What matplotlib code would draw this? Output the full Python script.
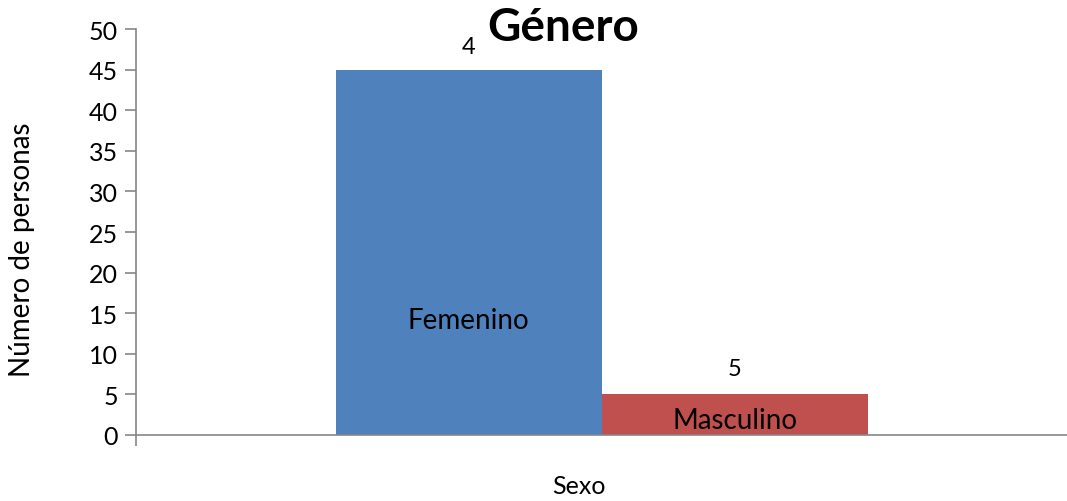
import numpy as np
import matplotlib.pyplot as plt

plt.rcParams['font.family'] = ['Lato', 'DejaVu Sans']

categorias = ['Femenino', 'Masculino']
valores = [45, 5]
etiquetas_valor = ['4', '5']
colores = ['#4F81BD', '#C0504D']
yticks = np.arange(0, 55, 5)

fig = plt.figure(figsize=(10.67, 5.02), dpi=100)
ax = fig.add_axes([0.1275, 0.1315, 0.8725, 0.8085])

x = np.array([-0.5, 0.5])
ax.bar(x, valores, width=1.0, color=colores)

ax.set_xlim(-1.75, 1.75)
ax.set_ylim(0, 50)
ax.set_yticks(yticks)
ax.set_xticks([-1.75])
ax.set_xticklabels([''])

gris = '#868686'
for s in ['top', 'right']:
    ax.spines[s].set_visible(False)
ax.spines['left'].set_color(gris)
ax.spines['bottom'].set_color(gris)
ax.spines['left'].set_linewidth(1.2)
ax.spines['bottom'].set_linewidth(1.2)
ax.tick_params(axis='y', length=8, width=1.2, color=gris, labelsize=18, pad=5)
ax.tick_params(axis='x', length=8, width=1.2, color=gris)

# etiquetas de valor y categoria
ax.text(x[0], 47.8, etiquetas_valor[0], ha='center', va='center', fontsize=17)
ax.text(x[1], 8.2, etiquetas_valor[1], ha='center', va='center', fontsize=17)
ax.text(x[0], 14.2, categorias[0], ha='center', va='center', fontsize=20)
ax.text(x[1], 1.9, categorias[1], ha='center', va='center', fontsize=20)

fig.text(563 / 1067, 1 - 28 / 502, 'Género', ha='center', va='center',
         fontsize=33, fontweight='bold')
fig.text(579 / 1067, 1 - 487 / 502, 'Sexo', ha='center', va='center', fontsize=18)
fig.text(22 / 1067, 1 - 250 / 502, 'Número de personas', ha='center', va='center',
         fontsize=20, rotation=90)

fig.savefig('out.png', dpi=100)
